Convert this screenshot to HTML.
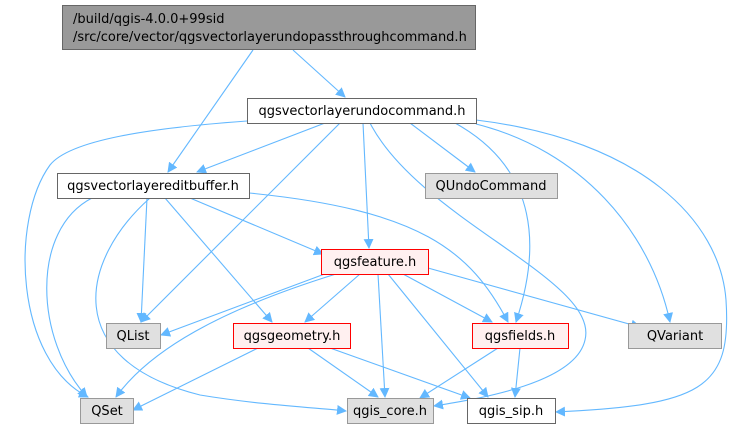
<!DOCTYPE html>
<html><head><meta charset="utf-8"><style>
html,body{margin:0;padding:0;background:#fff;width:739px;height:434px;overflow:hidden}
text{font-family:"DejaVu Sans","Liberation Sans",sans-serif;font-size:13px;fill:#000}
</style></head><body>
<svg width="739" height="434" viewBox="0 0 739 434" xmlns="http://www.w3.org/2000/svg">
<defs><marker id="a" viewBox="0 0 10 10" refX="9" refY="5" markerWidth="10" markerHeight="10" markerUnits="userSpaceOnUse" orient="auto"><path d="M0,0 L10,5 L0,10 z" fill="#63b8ff"/></marker></defs>
<g fill="none" stroke="#63b8ff" stroke-width="1.1" marker-end="url(#a)">
<path d="M253,50 L168,172"/>
<path d="M293,50 L345,97"/>
<path d="M325,123 L197,172"/>
<path d="M247,121 C150,128 70,140 50,165 C10,220 15,360 88,397"/>
<path d="M340,123 L141,322"/>
<path d="M363,123 L369,248"/>
<path d="M410,123 L475,172"/>
<path d="M370,123 C420,220 600,280 585,340 C575,385 470,400 434,406"/>
<path d="M455,123 C540,170 540,250 516,322"/>
<path d="M476,124 C580,150 650,230 670,322"/>
<path d="M476,120 C640,140 720,220 726,300 C732,390 700,405 556,412"/>
<path d="M92,198 C30,230 35,340 87,397"/>
<path d="M147,198 L141,322"/>
<path d="M190,198 L323,254"/>
<path d="M165,198 L272,322"/>
<path d="M150,198 C80,260 60,360 200,395 C260,405 320,408 346,411"/>
<path d="M249,193 C420,210 470,250 508,322"/>
<path d="M330,272 L161,335"/>
<path d="M336,274 C220,310 150,350 116,397"/>
<path d="M360,274 L305,322"/>
<path d="M378,274 L385,397"/>
<path d="M388,274 L488,397"/>
<path d="M403,274 L492,322"/>
<path d="M428,268 L640,327"/>
<path d="M258,348 L133,410"/>
<path d="M308,348 L378,397"/>
<path d="M330,348 L470,398"/>
<path d="M498,348 L420,398"/>
<path d="M520,348 L515,397"/>
</g>
<g stroke-width="1">
<rect x="62.5" y="5.5" width="413" height="44" fill="#999" stroke="#666"/>
<rect x="247.5" y="98.5" width="229" height="25" fill="#fff" stroke="#666"/>
<rect x="57.5" y="173.5" width="192" height="25" fill="#fff" stroke="#666"/>
<rect x="425.5" y="173.5" width="132" height="25" fill="#e0e0e0" stroke="#999"/>
<rect x="321.5" y="249.5" width="107" height="25" fill="#fff0f0" stroke="#f00"/>
<rect x="106.5" y="323.5" width="54" height="25" fill="#e0e0e0" stroke="#999"/>
<rect x="233.5" y="323.5" width="117" height="25" fill="#fff0f0" stroke="#f00"/>
<rect x="472.5" y="323.5" width="96" height="25" fill="#fff0f0" stroke="#f00"/>
<rect x="628.5" y="323.5" width="93" height="25" fill="#e0e0e0" stroke="#999"/>
<rect x="80.5" y="398.5" width="53" height="25" fill="#e0e0e0" stroke="#999"/>
<rect x="347.5" y="398.5" width="86" height="25" fill="#e0e0e0" stroke="#999"/>
<rect x="467.5" y="398.5" width="88" height="25" fill="#fff" stroke="#666"/>
</g>
<text x="73" y="23">/build/qgis-4.0.0+99sid</text>
<text x="73" y="41">/src/core/vector/qgsvectorlayerundopassthroughcommand.h</text>
<g text-anchor="middle">
<text x="362" y="115">qgsvectorlayerundocommand.h</text>
<text x="153" y="190">qgsvectorlayereditbuffer.h</text>
<text x="491" y="190">QUndoCommand</text>
<text x="375" y="266">qgsfeature.h</text>
<text x="133" y="340">QList</text>
<text x="292" y="340">qgsgeometry.h</text>
<text x="520" y="340">qgsfields.h</text>
<text x="675" y="340">QVariant</text>
<text x="107" y="415">QSet</text>
<text x="390" y="415">qgis_core.h</text>
<text x="511" y="415">qgis_sip.h</text>
</g>
</svg>
</body></html>
